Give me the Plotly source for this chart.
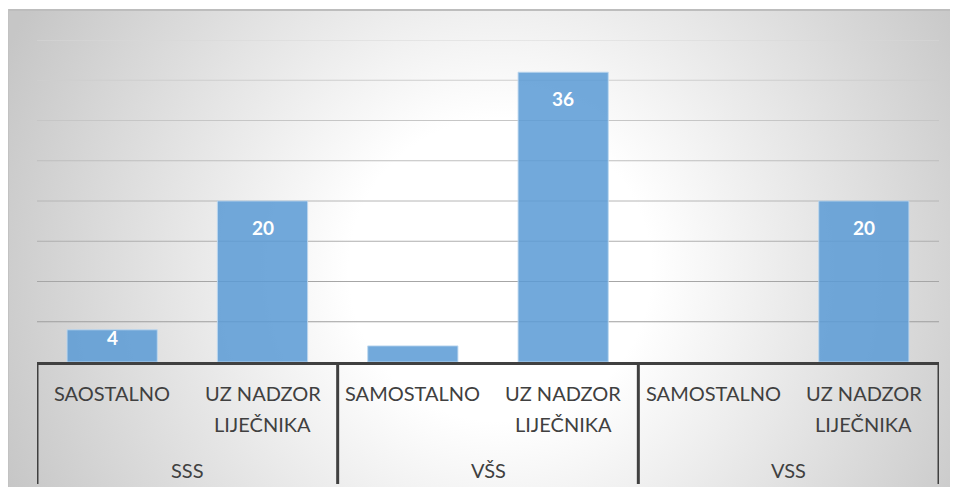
import base64
import plotly.graph_objects as go

# ---- data ----
groups = ["SSS", "VŠS", "VSS"]
sub_labels = ["SAOSTALNO", "UZ NADZOR<br>LIJEČNIKA",
              "SAMOSTALNO", "UZ NADZOR<br>LIJEČNIKA",
              "SAMOSTALNO", "UZ NADZOR<br>LIJEČNIKA"]
values = [4, 20, 2, 36, 0, 20]
show_label = [True, True, False, True, False, True]
y_ticks = [5, 10, 15, 20, 25, 30, 35, 40]

FONT = "Lato, Carlito, Calibri, sans-serif"
TEXT_COL = "#404040"
W, H = 950, 485          # page body has an 8px margin
L, R, T, B = 29, 19, 32, 131
PW = W - L - R
PH = H - T - B

xs = list(range(len(values)))

fig = go.Figure()
fig.add_trace(go.Bar(
    x=xs, y=values,
    marker=dict(color="rgba(91,155,213,0.86)",
                line=dict(color="rgba(189,215,238,0.9)",
                          width=[1 if v > 0 else 0 for v in values])),
    hoverinfo="skip",
))

# background gradient (chart area) as SVG
BW, BH = 951, 478
svg = f'''<svg xmlns="http://www.w3.org/2000/svg" width="{BW}" height="{BH}" viewBox="0 0 {BW} {BH}" preserveAspectRatio="none">
<defs>
<radialGradient id="g" gradientUnits="userSpaceOnUse" cx="493" cy="261" r="540">
<stop offset="0" stop-color="#ffffff"/>
<stop offset="0.28" stop-color="#ffffff"/>
<stop offset="1" stop-color="#c6c6c6"/>
</radialGradient>
</defs>
<rect x="0" y="0" width="{BW}" height="{BH}" fill="url(#g)"/>
<rect x="0" y="0" width="{BW}" height="2" fill="#bdbdbd"/>
<rect x="0" y="0" width="2" height="{BH}" fill="#c2c2c2"/>
</svg>'''
src = "data:image/svg+xml;base64," + base64.b64encode(svg.encode()).decode()
fig.add_layout_image(dict(
    source=src, xref="paper", yref="paper",
    x=(-1 - L) / PW, y=(T + PH - 1) / PH,
    sizex=BW / PW, sizey=BH / PH,
    xanchor="left", yanchor="top", sizing="stretch", layer="below",
))

# gridlines (lighter towards top)
for v in y_ticks:
    g = int(150 + 65 * v / max(y_ticks))
    fig.add_shape(type="line", xref="paper", yref="y", x0=0, x1=1, y0=v, y1=v,
                  line=dict(color=f"rgb({g},{g},{g})", width=1), layer="below")

# group dividers
n_sub = len(values) // len(groups)
for k in range(len(groups) + 1):
    xd = k * n_sub - 0.5
    fig.add_shape(type="line", xref="x", yref="paper", x0=xd, x1=xd,
                  y0=0, y1=-122 / PH,
                  line=dict(color=TEXT_COL, width=3))

# sub-category labels (split lines for Excel-like spacing)
for i, lab in enumerate(sub_labels):
    for j, line in enumerate(lab.split("<br>")):
        fig.add_annotation(x=i, y=0, xref="x", yref="y", text=line,
                           showarrow=False, yanchor="middle", yshift=-31 - 31 * j,
                           font=dict(family=FONT, size=20, color=TEXT_COL))

# group labels
for k, gname in enumerate(groups):
    fig.add_annotation(x=k * n_sub + (n_sub - 1) / 2, y=0, xref="x", yref="y",
                       text=gname, showarrow=False, yanchor="middle", yshift=-108,
                       font=dict(family=FONT, size=20, color=TEXT_COL))

# data labels
for i, (v, s) in enumerate(zip(values, show_label)):
    if s:
        fig.add_annotation(x=i, y=v, xref="x", yref="y", text=f"<b>{v}</b>",
                           showarrow=False, yanchor="middle",
                           yshift=-26 if v >= 10 else -8,
                           font=dict(family=FONT, size=19, color="white"))

fig.update_layout(
    width=W, height=H,
    margin=dict(l=L, r=R, t=T, b=B),
    paper_bgcolor="white", plot_bgcolor="rgba(0,0,0,0)",
    bargap=0.4, showlegend=False,
    xaxis=dict(range=[-0.5, len(values) - 0.5], showticklabels=False, showgrid=False,
               zeroline=False, showline=True, linecolor=TEXT_COL, linewidth=3,
               fixedrange=True),
    yaxis=dict(range=[0, 40], showticklabels=False, showgrid=False, zeroline=False,
               showline=False, tickvals=y_ticks, fixedrange=True),
)

fig.write_html("out.html", config={"displayModeBar": False})
